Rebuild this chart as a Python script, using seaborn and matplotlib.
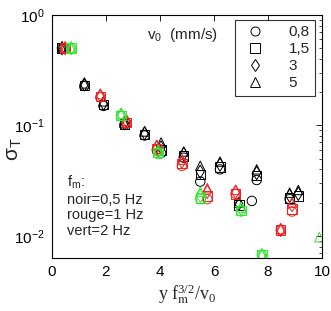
import numpy as np
import pandas as pd
import matplotlib
matplotlib.use("Agg")
import matplotlib.pyplot as plt
import seaborn as sns
from matplotlib.lines import Line2D
from matplotlib.ticker import LogLocator, NullFormatter

sns.set_style("white")
plt.rcParams['font.family'] = ['Liberation Sans', 'DejaVu Sans']
plt.rcParams['mathtext.fontset'] = 'custom'
plt.rcParams['mathtext.rm'] = 'Liberation Sans'
plt.rcParams['mathtext.it'] = 'Liberation Sans:italic'
plt.rcParams['mathtext.default'] = 'regular'

v0_labels = ["0,8", "1,5", "3", "5"]
markers = ["o", "s", "d", "^"]

# black: f_m = 0.5 Hz
black_x = [0.37, 1.20, 1.91, 2.68, 3.43, 4.04, 4.88, 5.49, 6.22, 6.92, 7.40, 7.58, 8.80, 9.12]
black_o = [0.50, 0.228, 0.150, 0.101, 0.081, 0.056, 0.051, 0.031, 0.040, np.nan, 0.0207, 0.032, 0.0215, np.nan]
black_s = [0.50, 0.230, 0.155, 0.103, 0.083, 0.060, 0.053, 0.036, 0.042, 0.019, np.nan, 0.035, 0.022, 0.023]
black_d = [0.50, 0.235, 0.158, 0.105, 0.085, 0.063, 0.055, 0.038, 0.044, 0.0195, np.nan, 0.037, 0.023, 0.024]
black_t = [0.50, 0.240, 0.165, 0.106, 0.088, 0.070, 0.058, 0.043, 0.047, 0.020, np.nan, 0.040, 0.0246, 0.026]

# red: f_m = 1 Hz
red_x = [0.49, 1.79, 2.77, 3.88, 4.81, 5.75, 6.80, 8.47, 8.89]
red_o = [0.50, 0.180, 0.104, 0.060, 0.043, 0.0215, 0.024, 0.0113, 0.0166]
red_s = [0.50, 0.183, 0.106, 0.062, 0.045, 0.023, 0.024, 0.0113, 0.0175]
red_d = [0.50, 0.186, 0.108, 0.064, 0.047, 0.025, 0.025, 0.0113, 0.019]
red_t = [0.50, 0.192, 0.110, 0.066, 0.049, 0.027, 0.026, 0.0115, 0.020]

# green: f_m = 2 Hz
green_x = [0.71, 2.56, 3.93, 5.49, 7.00, 7.77, 9.90]
green_o = [0.50, 0.122, 0.055, 0.0215, 0.0166, 0.0067, np.nan]
green_s = [0.50, 0.123, 0.057, 0.022, 0.017, 0.0067, np.nan]
green_d = [0.50, 0.125, 0.058, 0.023, 0.0175, 0.0067, np.nan]
green_t = [0.50, 0.128, 0.059, 0.025, 0.018, 0.0068, 0.0097]

groups = [
    ("black", black_x, [black_o, black_s, black_d, black_t]),
    ("#f02020", red_x, [red_o, red_s, red_d, red_t]),
    ("#33e633", green_x, [green_o, green_s, green_d, green_t]),
]

fig = plt.figure(figsize=(3.31, 3.11), dpi=100)
ax = fig.add_axes([0.157, 0.170, 0.816, 0.782])

for col, xs, ylists in groups:
    for m, ys in zip(markers, ylists):
        df = pd.DataFrame({"x": xs, "y": ys}).dropna()
        sns.scatterplot(data=df, x="x", y="y", marker=m, s=46,
                        facecolors="none", edgecolors=col, linewidths=0.7,
                        ax=ax, legend=False)

ax.set_yscale("log")
ax.set_xlim(0, 10)
ax.set_ylim(10 ** -2.202, 1.0)
ax.set_xticks([0, 2, 4, 6, 8, 10])
ax.yaxis.set_minor_locator(LogLocator(base=10, subs=np.arange(2, 10)))
ax.yaxis.set_minor_formatter(NullFormatter())
ax.tick_params(which="both", direction="in", top=True, right=True, labelsize=11, colors="black")
ax.tick_params(which="major", length=4, width=0.6, pad=5)
ax.tick_params(which="minor", length=2, width=0.5)
for sp in ax.spines.values():
    sp.set_color("black")
    sp.set_linewidth(0.8)

ax.set_xlabel(r"y f$_\mathrm{m}^{3/2}$/v$_0$", family="Liberation Serif",
              fontsize=13, labelpad=2, math_fontfamily="stix")
ax.set_ylabel(r"$\sigma_T$", fontsize=15, math_fontfamily="dejavusans")
ax.yaxis.set_label_coords(-0.105, 0.45)

ax.text(0.352, 0.918, r"v$_0$  (mm/s)", transform=ax.transAxes, fontsize=11, va="center")
ax.text(0.055, 0.215, "f$_m$:\nnoir=0,5 Hz\nrouge=1 Hz\nvert=2 Hz", transform=ax.transAxes,
        fontsize=10.5, va="center", linespacing=1.15)

handles = [Line2D([], [], marker=m, linestyle="none", markerfacecolor="none",
                  markeredgecolor="black", markersize=6.5, markeredgewidth=0.7) for m in markers]
leg = ax.legend(handles, v0_labels, loc="upper right", bbox_to_anchor=(0.975, 0.98),
                fontsize=11, frameon=True, fancybox=False, edgecolor="black",
                handletextpad=1.2, handlelength=2.0, borderpad=0.35, labelspacing=0.2,
                borderaxespad=0)
leg.get_frame().set_linewidth(0.8)

fig.savefig("out.png", dpi=100)
